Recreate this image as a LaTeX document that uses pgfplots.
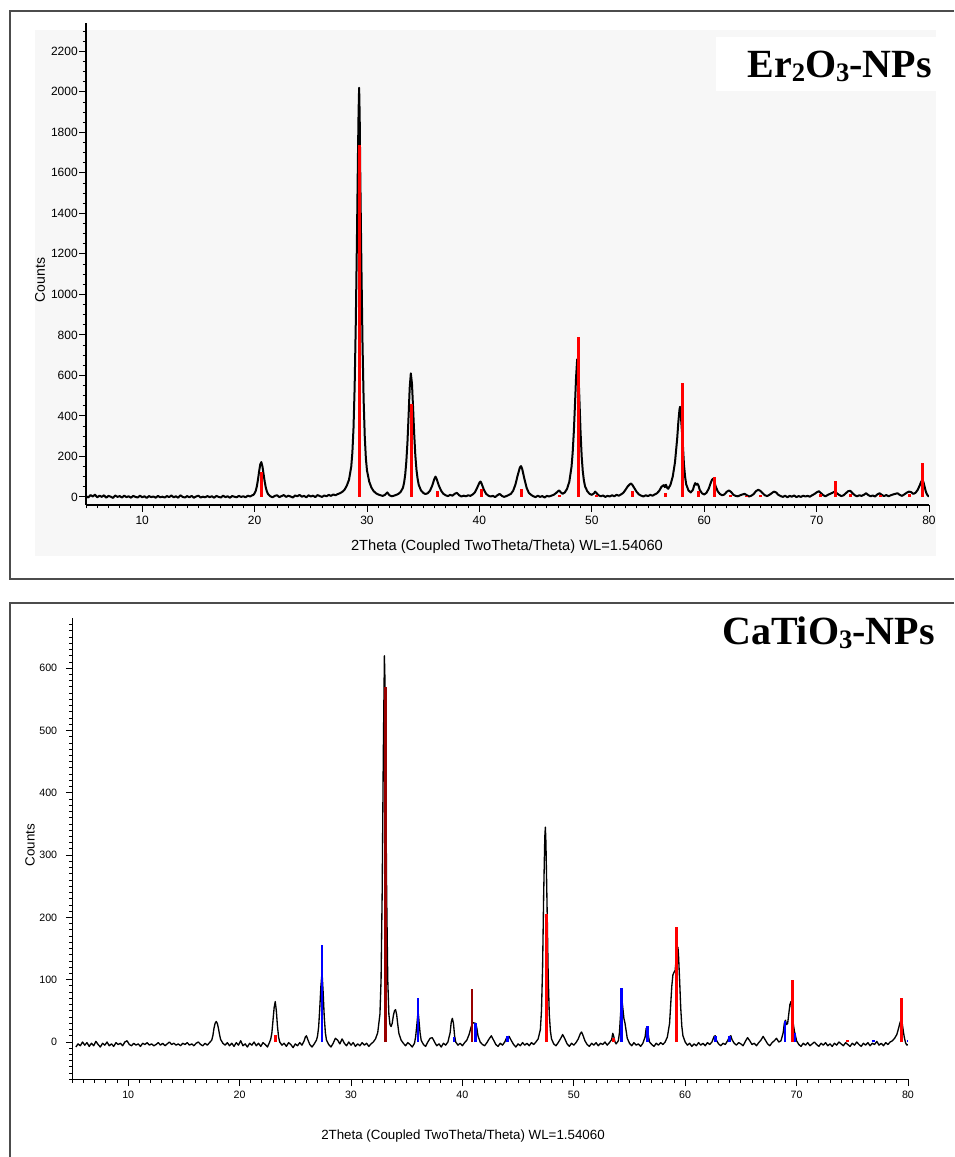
\documentclass[border=0pt]{standalone}
\usepackage{fontspec}
\setmainfont{Liberation Sans}
\newfontfamily\titlefont{Liberation Serif}
\usepackage{pgfplots}
\pgfplotsset{compat=1.18}

% shared look of both XRD panels
\pgfplotsset{
  xrd/.style={
    scale only axis, anchor=south west,
    axis lines=left, axis line style={-, line width=0.9pt},
    tick align=outside,
    major tick length=5pt, minor tick length=2.5pt,
    every tick/.style={black, line width=0.7pt},
    xmin=5, xmax=80,
    xtick={10,20,...,80}, minor xtick={5,6,...,80},
    /pgf/number format/assume math mode=true,
    /pgf/number format/1000 sep={},
  },
  sticks/.style={ycomb, no marks, line cap=butt, line width=2.2pt},
}
\newcommand\sub[1]{\raisebox{-0.1em}{\fontsize{20}{20}\selectfont #1}}

\begin{document}
\begin{tikzpicture}[x=0.75pt,y=0.75pt]
\useasboundingbox (0,0) rectangle (954,1157);
% frames and panel background
\fill[black!3] (35,1127) rectangle (936,601);
\fill[white] (716,1120) rectangle (936,1066);
\draw[black!70,line width=1.1pt] (954,1146) -- (10,1146) -- (10,578) -- (954,578);
\draw[black!70,line width=1.1pt] (954,554) -- (10,554) -- (10,0);
\coordinate (A1) at (86,652);
\coordinate (A2) at (72.5,77.6);

% ---------- Er2O3 ----------
\begin{axis}[xrd, at={(A1)}, width=632.25pt, height=361.5pt,
  ymin=-40, ymax=2340,
  ytick={0,200,...,2200}, minor ytick={0,50,...,2300},
  tick label style={font=\fontsize{9}{10}\selectfont},
  yticklabel style={inner sep=1pt},
]
\addplot[black, line width=1.5pt, no marks, line join=round] coordinates {
(5.0,4) (5.2,-3) (5.4,9) (5.6,2) (5.8,11) (6.0,-2) (6.2,6) (6.4,0) (6.6,8) (6.8,-4)
(7.0,5) (7.2,1) (7.4,-5) (7.6,7) (7.8,0) (8.0,4) (8.2,-3) (8.4,6) (8.6,-1) (8.8,3)
(9.0,-4) (9.2,5) (9.4,0) (9.6,-3) (9.8,6) (10.0,-2) (10.2,3) (10.4,-5) (10.6,4) (10.8,-1)
(11.0,2) (11.2,-4) (11.4,5) (11.6,-2) (11.8,1) (12.0,-3) (12.2,4) (12.4,-1) (12.6,7) (12.8,-2)
(13.0,3) (13.2,-4) (13.4,8) (13.6,0) (13.8,-3) (14.0,4) (14.2,-2) (14.4,5) (14.6,-4) (14.8,2)
(15.0,6) (15.2,-3) (15.4,1) (15.6,-2) (15.8,4) (16.0,-1) (16.2,3) (16.4,-4) (16.6,5) (16.8,0)
(17.0,-3) (17.2,6) (17.4,-1) (17.6,3) (17.8,-4) (18.0,4) (18.2,1) (18.4,-2) (18.6,5) (18.8,0)
(19.0,3) (19.2,-2) (19.4,6) (19.6,2) (19.8,8) (19.9,10) (20.0,18) (20.1,30) (20.2,52) (20.3,85)
(20.4,125) (20.5,160) (20.6,172) (20.7,150) (20.8,112) (20.9,75) (21.0,45) (21.1,26) (21.2,14) (21.3,8)
(21.4,3) (21.6,-2) (21.8,5) (22.0,8) (22.2,-1) (22.4,4) (22.6,9) (22.8,0) (23.0,6) (23.2,2)
(23.4,-3) (23.6,7) (23.8,3) (24.0,10) (24.2,1) (24.4,5) (24.6,-2) (24.8,8) (25.0,2) (25.2,6)
(25.4,-1) (25.6,9) (25.8,4) (26.0,0) (26.2,7) (26.4,3) (26.6,10) (26.8,5) (27.0,12) (27.2,8)
(27.4,14) (27.6,18) (27.8,25) (28.0,35) (28.2,55) (28.4,85) (28.6,150) (28.7,220) (28.8,340) (28.9,540)
(29.0,850) (29.1,1250) (29.2,1700) (29.25,1900) (29.3,2020) (29.35,1880) (29.4,1600) (29.5,1150) (29.6,760) (29.7,480)
(29.8,300) (29.9,190) (30.0,130) (30.2,75) (30.4,45) (30.6,28) (30.8,18) (31.0,12) (31.2,8) (31.4,5)
(31.6,10) (31.8,22) (32.0,8) (32.2,3) (32.4,6) (32.6,10) (32.8,15) (33.0,25) (33.2,45) (33.3,70)
(33.4,110) (33.5,175) (33.6,270) (33.7,400) (33.8,540) (33.9,610) (34.0,560) (34.1,440) (34.2,310) (34.3,205)
(34.4,135) (34.5,90) (34.6,60) (34.8,32) (35.0,20) (35.2,14) (35.4,18) (35.6,30) (35.8,55) (36.0,90)
(36.1,100) (36.2,88) (36.4,55) (36.6,30) (36.8,15) (37.0,8) (37.2,4) (37.4,10) (37.6,6) (37.8,15)
(38.0,20) (38.2,8) (38.4,2) (38.6,6) (38.8,3) (39.0,8) (39.2,5) (39.4,12) (39.6,22) (39.8,45)
(40.0,70) (40.1,76) (40.2,65) (40.4,35) (40.6,15) (40.8,6) (41.0,2) (41.2,5) (41.4,-1) (41.6,8)
(41.8,15) (42.0,5) (42.2,0) (42.4,4) (42.6,9) (42.8,15) (43.0,30) (43.2,60) (43.4,105) (43.6,145)
(43.7,152) (43.8,140) (44.0,90) (44.2,45) (44.4,20) (44.6,10) (44.8,3) (45.0,-1) (45.2,6) (45.4,0)
(45.6,4) (45.8,-3) (46.0,5) (46.2,2) (46.4,6) (46.6,10) (46.8,18) (47.0,28) (47.1,32) (47.2,25)
(47.4,15) (47.6,22) (47.8,40) (48.0,75) (48.2,150) (48.3,220) (48.4,320) (48.5,450) (48.6,590) (48.7,680)
(48.8,630) (48.9,480) (49.0,320) (49.1,200) (49.2,125) (49.3,80) (49.4,52) (49.6,28) (49.8,15) (50.0,10)
(50.2,18) (50.3,26) (50.4,20) (50.6,8) (50.8,3) (51.0,7) (51.2,0) (51.4,5) (51.6,2) (51.8,8)
(52.0,3) (52.2,10) (52.4,6) (52.6,12) (52.8,20) (53.0,35) (53.2,52) (53.4,63) (53.5,66) (53.6,60)
(53.8,42) (54.0,24) (54.2,12) (54.4,6) (54.6,2) (54.8,8) (55.0,4) (55.2,10) (55.4,6) (55.6,12)
(55.8,18) (56.0,30) (56.2,50) (56.4,58) (56.5,48) (56.6,60) (56.7,45) (56.8,40) (57.0,60) (57.2,100)
(57.4,170) (57.6,290) (57.7,370) (57.8,430) (57.85,445) (57.9,420) (58.0,340) (58.1,260) (58.2,160) (58.3,100)
(58.4,62) (58.6,32) (58.8,22) (59.0,35) (59.1,55) (59.2,68) (59.3,60) (59.4,65) (59.5,55) (59.6,35)
(59.8,18) (60.0,12) (60.2,20) (60.4,40) (60.6,72) (60.7,85) (60.8,90) (60.9,78) (61.0,55) (61.2,28)
(61.4,14) (61.6,8) (61.8,12) (62.0,25) (62.2,32) (62.4,24) (62.6,10) (62.8,5) (63.0,3) (63.2,8)
(63.4,12) (63.6,15) (63.8,8) (64.0,2) (64.2,6) (64.4,14) (64.6,28) (64.8,35) (65.0,30) (65.2,18)
(65.4,8) (65.6,4) (65.8,10) (66.0,18) (66.2,26) (66.4,22) (66.6,10) (66.8,4) (67.0,0) (67.2,6)
(67.4,-2) (67.6,5) (67.8,1) (68.0,7) (68.2,-1) (68.4,4) (68.6,0) (68.8,6) (69.0,2) (69.2,5)
(69.4,1) (69.6,8) (69.8,14) (70.0,22) (70.2,28) (70.4,18) (70.6,8) (70.8,3) (71.0,10) (71.2,15)
(71.4,20) (71.6,26) (71.8,18) (72.0,10) (72.2,4) (72.4,8) (72.6,18) (72.8,28) (73.0,30) (73.2,18)
(73.4,8) (73.6,3) (73.8,8) (74.0,5) (74.2,10) (74.4,18) (74.6,9) (74.8,3) (75.0,7) (75.2,2)
(75.4,12) (75.6,18) (75.8,10) (76.0,4) (76.2,9) (76.4,3) (76.6,8) (76.8,12) (77.0,15) (77.2,18)
(77.4,10) (77.6,5) (77.8,12) (78.0,20) (78.2,26) (78.4,24) (78.6,15) (78.8,20) (79.0,35) (79.2,60)
(79.3,75) (79.4,82) (79.5,75) (79.6,52) (79.7,30) (79.8,14) (79.9,6) (80.0,2)
};
\addplot[sticks, red] coordinates {
(20.65,125) (29.35,1740) (34.0,460) (36.25,30) (40.15,40) (43.75,40) (47.15,10)
(48.85,790) (50.45,10) (53.6,30) (56.55,20) (58.05,560) (59.5,30) (60.9,100)
(62.35,8) (63.8,6) (65.0,10) (70.35,12) (71.7,80) (73.05,15) (75.7,8) (78.25,12) (79.45,165)
};
\end{axis}

% ---------- CaTiO3 ----------
\begin{axis}[xrd, at={(A2)}, width=626.6pt, height=345.75pt,
  ymin=-60, ymax=680,
  ytick={0,100,...,600}, minor ytick={-60,-50,...,670},
  tick label style={font=\fontsize{8}{9}\selectfont},
  yticklabel style={xshift=-3pt},
]
\addplot[black, line width=1pt, no marks, line join=round] coordinates {
(5.3,-8) (5.5,-3) (5.7,-6) (5.9,0) (6.1,-5) (6.3,-1) (6.5,-7) (6.7,-2) (6.9,-6) (7.1,1)
(7.3,-4) (7.5,-8) (7.7,-2) (7.9,-5) (8.1,0) (8.3,-6) (8.5,-3) (8.7,-7) (8.9,-1) (9.1,-4)
(9.3,-2) (9.5,-6) (9.7,0) (9.9,2) (10.1,-4) (10.3,-6) (10.5,-2) (10.7,-5) (10.9,-3) (11.1,-7)
(11.3,-2) (11.5,-4) (11.7,-1) (11.9,-5) (12.1,-3) (12.3,-6) (12.5,-4) (12.7,-1) (12.9,-5) (13.1,-2)
(13.3,-6) (13.5,-3) (13.7,0) (13.9,-4) (14.1,-2) (14.3,-5) (14.5,-3) (14.7,-6) (14.9,-2) (15.1,-4)
(15.3,-1) (15.5,-5) (15.7,-3) (15.9,-6) (16.1,-2) (16.3,0) (16.5,-4) (16.7,-6) (16.9,-2) (17.1,-5)
(17.3,-1) (17.5,3) (17.6,10) (17.7,22) (17.8,30) (17.9,33) (18.0,30) (18.1,22) (18.2,12) (18.3,4)
(18.5,-2) (18.7,-5) (18.9,-1) (19.1,-6) (19.3,-2) (19.5,-7) (19.7,-1) (19.9,-5) (20.1,2) (20.3,-6)
(20.5,-3) (20.7,-8) (20.9,-2) (21.1,-5) (21.3,0) (21.5,-6) (21.7,-2) (21.9,-7) (22.1,-1) (22.3,-4)
(22.5,-8) (22.7,0) (22.8,5) (22.9,15) (23.0,35) (23.1,55) (23.2,65) (23.3,50) (23.4,25) (23.5,8)
(23.6,0) (23.8,-5) (24.0,-2) (24.2,-7) (24.4,-1) (24.6,-4) (24.8,-9) (25.0,-3) (25.2,-6) (25.4,-1)
(25.6,-5) (25.8,2) (25.9,8) (26.0,10) (26.1,5) (26.3,-4) (26.5,-8) (26.7,-3) (26.9,3) (27.0,10)
(27.1,25) (27.2,55) (27.3,90) (27.4,112) (27.5,80) (27.6,40) (27.7,15) (27.8,3) (28.0,-4) (28.2,-8)
(28.4,-2) (28.6,6) (28.8,3) (29.0,-3) (29.2,5) (29.4,-2) (29.6,-6) (29.8,0) (30.0,-5) (30.2,-1)
(30.4,-7) (30.6,-3) (30.8,-6) (31.0,-1) (31.2,-5) (31.4,-2) (31.6,-7) (31.8,-3) (32.0,0) (32.2,5)
(32.4,15) (32.6,45) (32.7,100) (32.8,240) (32.9,460) (33.0,620) (33.05,580) (33.1,470) (33.2,240) (33.3,100)
(33.4,45) (33.5,28) (33.6,25) (33.7,30) (33.8,42) (33.9,50) (34.0,52) (34.1,44) (34.2,28) (34.3,14)
(34.5,3) (34.7,-2) (34.9,-6) (35.1,-1) (35.3,-4) (35.5,-8) (35.7,-2) (35.8,8) (35.9,25) (36.0,45)
(36.05,45) (36.1,35) (36.2,15) (36.3,3) (36.5,-4) (36.7,-7) (36.9,0) (37.1,6) (37.3,7) (37.5,0)
(37.7,-6) (37.9,-3) (38.1,-8) (38.3,-2) (38.5,-5) (38.7,0) (38.9,15) (39.0,32) (39.1,38) (39.2,30)
(39.3,10) (39.4,0) (39.6,-5) (39.8,-2) (40.0,-6) (40.2,-1) (40.4,3) (40.6,12) (40.8,25) (40.9,30)
(41.0,31) (41.1,30) (41.2,30) (41.3,22) (41.4,10) (41.6,0) (41.8,-4) (42.0,-6) (42.2,-1) (42.4,5)
(42.6,10) (42.8,3) (43.0,-4) (43.2,-7) (43.4,-2) (43.6,-5) (43.8,0) (44.0,8) (44.2,9) (44.4,2)
(44.6,-4) (44.8,-8) (45.0,-3) (45.2,-6) (45.4,-1) (45.6,-5) (45.8,-2) (46.0,-6) (46.2,-1) (46.4,-4)
(46.6,0) (46.8,5) (47.0,20) (47.1,50) (47.2,120) (47.3,240) (47.4,330) (47.45,345) (47.5,320) (47.6,220)
(47.7,110) (47.8,45) (47.9,18) (48.0,5) (48.2,-3) (48.4,-6) (48.6,-1) (48.8,5) (49.0,12) (49.2,5)
(49.4,-3) (49.6,-7) (49.8,-2) (50.0,-5) (50.2,-1) (50.4,5) (50.6,14) (50.7,16) (50.8,12) (51.0,2)
(51.2,-4) (51.4,-7) (51.6,-2) (51.8,-5) (52.0,-1) (52.2,-6) (52.4,-2) (52.6,-4) (52.8,0) (53.0,-5)
(53.2,-1) (53.4,4) (53.5,14) (53.6,8) (53.7,0) (53.8,-3) (54.0,2) (54.1,15) (54.2,45) (54.3,72)
(54.4,55) (54.5,38) (54.6,30) (54.7,18) (54.8,6) (55.0,-2) (55.2,-6) (55.4,-1) (55.6,-5) (55.8,-3)
(56.0,-7) (56.2,-2) (56.4,8) (56.5,22) (56.6,24) (56.7,10) (56.8,0) (57.0,-4) (57.2,-7) (57.4,-2)
(57.6,-5) (57.8,-1) (58.0,-4) (58.2,0) (58.4,8) (58.6,30) (58.7,60) (58.8,90) (58.9,108) (59.0,112)
(59.1,115) (59.2,135) (59.3,150) (59.35,152) (59.4,140) (59.5,100) (59.6,55) (59.7,25) (59.8,10) (60.0,0)
(60.2,-5) (60.4,-2) (60.6,-7) (60.8,-3) (61.0,-6) (61.2,-1) (61.4,-5) (61.6,-2) (61.8,-6) (62.0,-1)
(62.2,-4) (62.4,0) (62.6,9) (62.7,10) (62.8,3) (63.0,-3) (63.2,-6) (63.4,-2) (63.6,-4) (63.8,2)
(64.0,9) (64.1,10) (64.2,4) (64.4,-2) (64.6,-5) (64.8,-1) (65.0,-3) (65.2,-6) (65.4,1) (65.6,7)
(65.8,2) (66.0,-4) (66.2,-2) (66.4,-6) (66.6,-1) (66.8,3) (67.0,9) (67.2,3) (67.4,-3) (67.6,-6)
(67.8,-1) (68.0,2) (68.2,6) (68.4,0) (68.6,2) (68.8,15) (68.9,30) (69.0,35) (69.1,28) (69.2,30)
(69.3,45) (69.4,60) (69.5,65) (69.6,50) (69.7,30) (69.8,18) (69.9,10) (70.0,2) (70.2,-4) (70.4,-7)
(70.6,-2) (70.8,-5) (71.0,-1) (71.2,-6) (71.4,-3) (71.6,0) (71.8,-4) (72.0,-7) (72.2,-2) (72.4,-5)
(72.6,-1) (72.8,-6) (73.0,-3) (73.2,-7) (73.4,-2) (73.6,-5) (73.8,0) (74.0,-3) (74.2,-6) (74.4,-1)
(74.6,-4) (74.8,-7) (75.0,-2) (75.2,-5) (75.4,0) (75.6,-4) (75.8,-7) (76.0,-2) (76.2,-5) (76.4,-1)
(76.6,-6) (76.8,-2) (77.0,-4) (77.2,1) (77.4,-5) (77.6,-2) (77.8,-6) (78.0,-1) (78.2,-4) (78.4,0)
(78.6,2) (78.8,6) (79.0,12) (79.2,25) (79.3,32) (79.4,35) (79.5,28) (79.6,15) (79.7,5) (79.8,-2)
(79.9,-5) (80.0,-4)
};
\addplot[sticks, red!60!black, line width=1.6pt] coordinates {(33.1,570) (40.9,85)};
\addplot[sticks, red] coordinates {
(23.25,12) (47.55,205) (53.6,6) (59.2,185) (69.65,100) (74.55,4) (79.45,70)
};
\addplot[sticks, blue, line width=1.9pt] coordinates {
(27.4,155) (36.0,70) (39.25,8) (41.2,30) (44.05,10) (54.3,87) (56.6,25)
(62.7,10) (64.0,10) (68.95,33) (69.85,15) (76.9,3) (80.0,3)
};
\end{axis}

% labels and titles
\node[rotate=90, font=\fontsize{10.5}{12}\selectfont] at (40,877) {Counts};
\node[font=\fontsize{11}{13}\selectfont] at (507,610) {2Theta (Coupled TwoTheta/Theta) WL=1.54060};
\node[rotate=90, font=\fontsize{10}{12}\selectfont] at (30,312) {Counts};
\node[font=\fontsize{10}{12}\selectfont] at (463,21) {2Theta (Coupled TwoTheta/Theta) WL=1.54060};
\node[anchor=base east, inner sep=0pt, font=\titlefont\bfseries\fontsize{30}{30}\selectfont] at (932,1079) {Er\sub{2}O\sub{3}-NPs};
\node[anchor=base east, inner sep=0pt, font=\titlefont\bfseries\fontsize{30}{30}\selectfont] at (935,512) {CaTiO\sub{3}-NPs};
\end{tikzpicture}
\end{document}
